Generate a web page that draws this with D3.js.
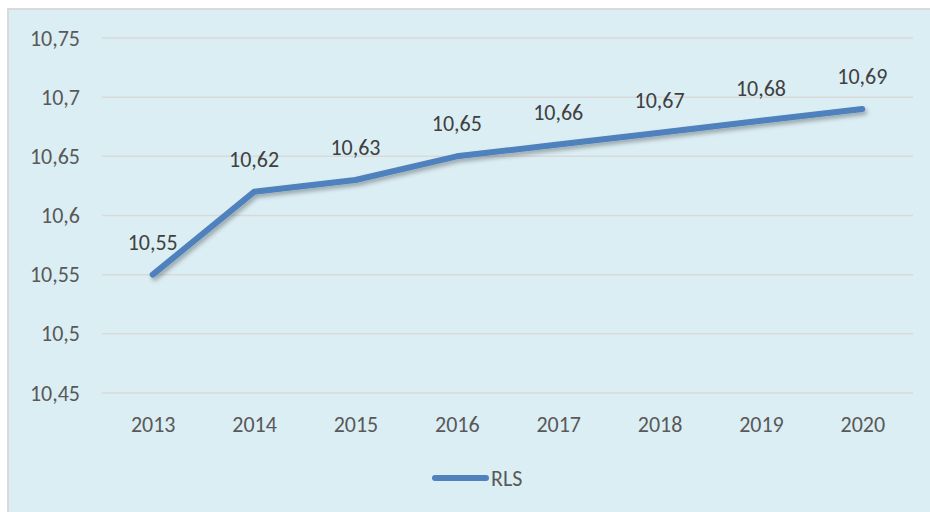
<!DOCTYPE html>
<html>
<head>
<meta charset="utf-8">
<script src="https://cdn.jsdelivr.net/npm/d3@7"></script>
<style>
  body { margin: 0; background: #fff; }
  svg { display: block; }
</style>
</head>
<body>
<div class="chart"></div>
<script>
let years = ['2013', '2014', '2015', '2016', '2017', '2018', '2019', '2020']
let rls = [10.55, 10.62, 10.63, 10.65, 10.66, 10.67, 10.68, 10.69]
let yTicks = [10.45, 10.5, 10.55, 10.6, 10.65, 10.7, 10.75]

let width = 930
let height = 512
let fmt = function (v) { return String(+v.toFixed(2)).replace('.', ',') }
let font = 'Carlito, Calibri, Lato, sans-serif'
let fs = 22

let svg = d3.select('.chart').append('svg')
  .attr('width', width)
  .attr('height', height)

// фон и рамка
svg.append('rect')
  .attr('x', 8).attr('y', 9)
  .attr('width', width - 8).attr('height', height - 9)
  .attr('fill', '#DBEEF4')
svg.append('path')
  .attr('d', 'M8,' + height + 'V9H' + width)
  .attr('fill', 'none')
  .attr('stroke', '#D9D9D9')
  .attr('stroke-width', 2)

let x = d3.scalePoint().domain(years).range([102, 913]).padding(0.5)
let y = d3.scaleLinear().domain([10.45, 10.75]).range([393, 38])

let defs = svg.append('defs')
let f = defs.append('filter').attr('id', 'sh').attr('x', '-10%').attr('y', '-10%').attr('width', '120%').attr('height', '130%')
f.append('feDropShadow').attr('dx', 2).attr('dy', 3).attr('stdDeviation', 2)
  .attr('flood-color', '#000').attr('flood-opacity', 0.3)

// сетка
svg.append('g').selectAll('line')
  .data(yTicks)
  .enter()
  .append('line')
  .attr('x1', 102).attr('x2', 913)
  .attr('y1', d => y(d)).attr('y2', d => y(d))
  .attr('stroke', '#D9D9D9')
  .attr('stroke-width', 1.5)

let yAxis = svg.append('g')
  .attr('transform', 'translate(80,0)')
  .call(d3.axisLeft(y).tickValues(yTicks).tickFormat(fmt).tickSize(0).tickPadding(0))
yAxis.select('.domain').remove()
yAxis.selectAll('text')
  .attr('font-family', font).attr('font-size', fs).attr('fill', '#595959')

let xAxis = svg.append('g')
  .attr('transform', 'translate(0,416.5)')
  .call(d3.axisBottom(x).tickSize(0).tickPadding(0))
xAxis.select('.domain').remove()
xAxis.selectAll('text')
  .attr('font-family', font).attr('font-size', fs).attr('fill', '#595959')

let line = d3.line()
  .x((d, i) => x(years[i]))
  .y(d => y(d))

svg.append('path')
  .datum(rls)
  .attr('d', line)
  .attr('fill', 'none')
  .attr('stroke', '#4F81BD')
  .attr('stroke-width', 6)
  .attr('stroke-linecap', 'round')
  .attr('stroke-linejoin', 'round')
  .attr('filter', 'url(#sh)')

svg.append('g').selectAll('text')
  .data(rls)
  .enter()
  .append('text')
  .attr('x', (d, i) => x(years[i]))
  .attr('y', d => y(d) - 25)
  .attr('text-anchor', 'middle')
  .attr('font-family', font)
  .attr('font-size', fs)
  .attr('fill', '#404040')
  .text(fmt)

// легенда
let lg = svg.append('g')
lg.append('line')
  .attr('x1', 435).attr('x2', 486)
  .attr('y1', 478).attr('y2', 478)
  .attr('stroke', '#4F81BD')
  .attr('stroke-width', 6)
  .attr('stroke-linecap', 'round')
lg.append('text')
  .attr('x', 491).attr('y', 486)
  .attr('font-family', font).attr('font-size', fs).attr('fill', '#595959')
  .text('RLS')
</script>
</body>
</html>
